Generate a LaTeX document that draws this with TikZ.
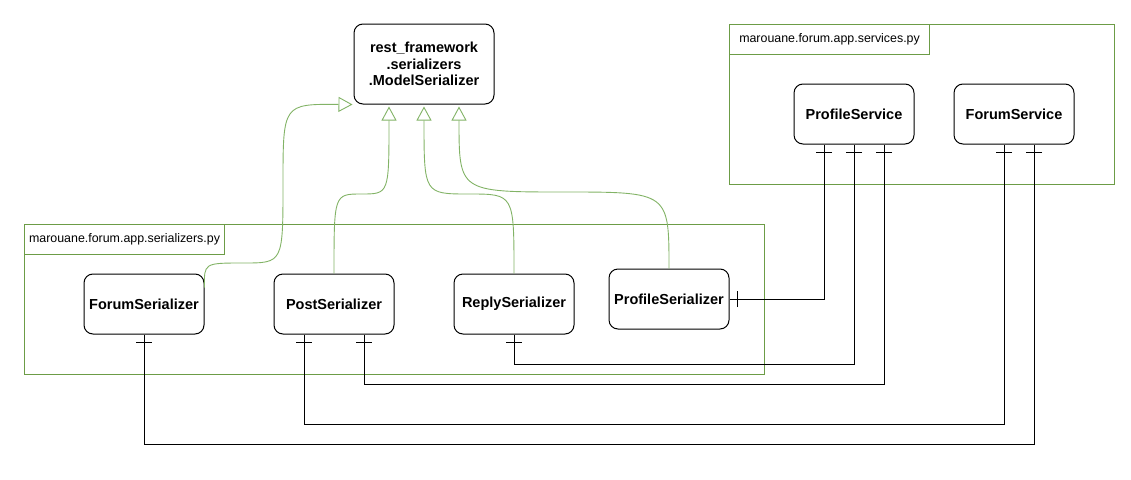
\documentclass[tikz,border=0pt]{standalone}
\usepackage{fontspec}
\setmainfont{Liberation Sans}
\usetikzlibrary{arrows.meta,decorations.markings}
\definecolor{pkggreen}{HTML}{6C9C46}
\definecolor{inhgreen}{HTML}{82B366}
\tikzset{
  cls/.style={draw=black, line width=1pt, fill=white, rounded corners=9pt,
    minimum width=120pt, minimum height=60pt, inner sep=2pt,
    font=\fontsize{14.5pt}{16.5pt}\selectfont\bfseries, align=center},
  pkg/.style={draw=pkggreen, line width=1.1pt, anchor=north west, inner sep=0pt},
  pkglabel/.style={draw=pkggreen, line width=1.1pt, anchor=north west,
    minimum width=200pt, minimum height=30pt, inner sep=0pt,
    font=\fontsize{12.4pt}{14pt}\selectfont},
  inh/.style={draw=inhgreen, line width=0.9pt,
    -{Triangle[length=14pt,width=15pt,fill=white]}},
  erline/.style={draw=black, line width=1pt,
    postaction={decorate, decoration={markings,
      mark=at position 8pt with {\draw[line width=1pt] (0pt,-8pt) -- (0pt,8pt);},
      mark=at position -8pt with {\draw[line width=1pt] (0pt,-8pt) -- (0pt,8pt);}}}}
}
\begin{document}
\begin{tikzpicture}[x=1pt,y=-1pt]
\useasboundingbox (0,0) rectangle (1131,479);
% packages
\node[pkg, minimum width=740pt, minimum height=150pt] (spkg) at (24,224) {};
\node[pkglabel] (spkgl) at (24,224) {marouane.forum.app.serializers.py};
\node[pkg, minimum width=385pt, minimum height=160pt] (vpkg) at (729,24) {};
\node[pkglabel] (vpkgl) at (729,24) {marouane.forum.app.services.py};
% classes
\node[cls, minimum width=140pt, minimum height=80pt] (base) at (424,64) {rest\_framework\\.serializers\\.ModelSerializer};
\node[cls] (fser) at (144,304) {ForumSerializer};
\node[cls] (post) at (334,304) {PostSerializer};
\node[cls] (rser) at (514,304) {ReplySerializer};
\node[cls] (pser) at (669,299) {ProfileSerializer};
\node[cls] (psvc) at (854,114) {ProfileService};
\node[cls] (fsvc) at (1014,114) {ForumService};
% inheritance
\draw[inh] ([yshift=-14pt]fser.north east) .. controls (204,263) .. (243.5,263)
  .. controls (283,263) .. (283,183.5) .. controls (283,104) .. ([xshift=-1pt]base.south west);
\draw[inh] (post.north) .. controls (334,194) .. (361.5,194)
  .. controls (389,194) .. ([xshift=-35pt,yshift=-2pt]base.south);
\draw[inh] (rser.north) .. controls (514,194) .. (469,194)
  .. controls (424,194) .. ([yshift=-2pt]base.south);
\draw[inh] (pser.north) .. controls (669,192) .. (564,192)
  .. controls (459,192) .. ([xshift=35pt,yshift=-2pt]base.south);
% associations
\draw[erline] (pser.east) -| ([xshift=-30pt]psvc.south);
\draw[erline] (rser.south) -- ++(0,30) -| (psvc.south);
\draw[erline] ([xshift=30pt]post.south) -- ++(0,50) -| ([xshift=30pt]psvc.south);
\draw[erline] ([xshift=-30pt]post.south) -- ++(0,90) -| ([xshift=-10pt]fsvc.south);
\draw[erline] (fser.south) -- ++(0,110) -| ([xshift=20pt]fsvc.south);
\end{tikzpicture}
\end{document}
